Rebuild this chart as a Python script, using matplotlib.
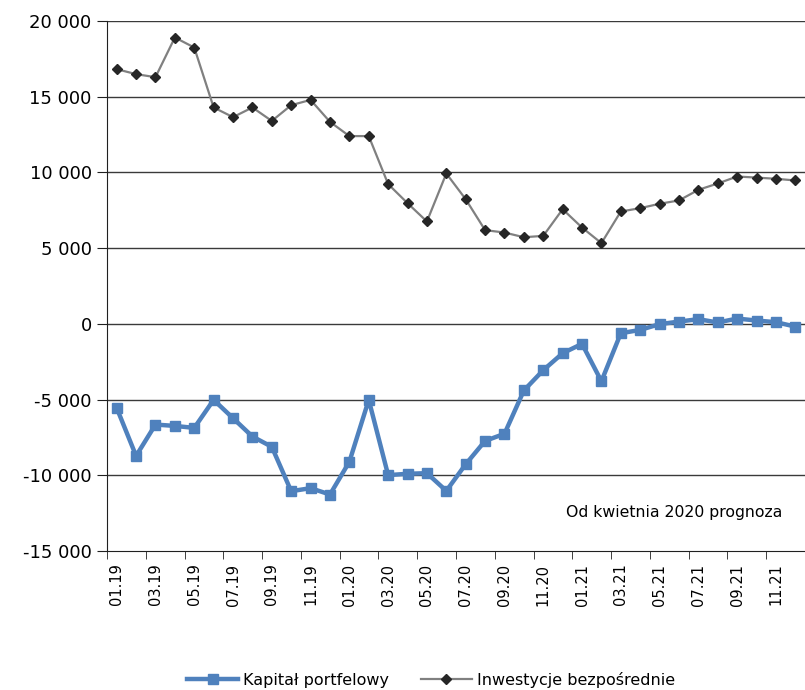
import numpy as np
import matplotlib.pyplot as plt

# monthly data, 01.2019 - 12.2021
months = ['01.19', '02.19', '03.19', '04.19', '05.19', '06.19', '07.19', '08.19', '09.19', '10.19', '11.19', '12.19',
          '01.20', '02.20', '03.20', '04.20', '05.20', '06.20', '07.20', '08.20', '09.20', '10.20', '11.20', '12.20',
          '01.21', '02.21', '03.21', '04.21', '05.21', '06.21', '07.21', '08.21', '09.21', '10.21', '11.21', '12.21']
portfel = [-5550, -8720, -6650, -6740, -6870, -5020, -6230, -7440, -8120, -11050, -10850, -11270,
           -9110, -5020, -9990, -9900, -9860, -11030, -9270, -7730, -7260, -4400, -3060, -1940,
           -1320, -3790, -620, -400, -20, 150, 310, 90, 350, 220, 110, -180]
bezposr = [16820, 16490, 16290, 18910, 18250, 14290, 13650, 14290, 13400, 14440, 14790, 13340,
           12400, 12400, 9230, 7970, 6760, 9930, 8230, 6190, 6030, 5720, 5810, 7570,
           6360, 5330, 7420, 7640, 7930, 8150, 8850, 9270, 9730, 9660, 9580, 9470]
yticks = [-15000, -10000, -5000, 0, 5000, 10000, 15000, 20000]
ytick_labels = ['-15 000', '-10 000', '-5 000', '0', '5 000', '10 000', '15 000', '20 000']

fig = plt.figure(figsize=(8.05, 6.9), dpi=100)
ax = fig.add_axes([107/805, 1 - 551/690, 1 - 107/805, 530/690])
x = np.arange(len(months))

for y in yticks[1:]:
    ax.axhline(y, color='#3a3a3a', lw=1.0, zorder=1)

ax.plot(x, portfel, color='#4F81BD', lw=3.2, marker='s', markersize=7.5,
        label='Kapitał portfelowy', zorder=3)
ax.plot(x, bezposr, color='#808080', lw=1.6, marker='D', markersize=5.5,
        markerfacecolor='#262626', markeredgecolor='#262626',
        label='Inwestycje bezpośrednie', zorder=3)

ax.set_ylim(-15000, 20000)
ax.set_xlim(-0.5, 35.3)
ax.set_yticks(yticks)
ax.set_yticklabels(ytick_labels, fontsize=13)
ax.set_xticks(x[::2])
ax.set_xticklabels(months[::2], rotation=90, fontsize=10.5)
ax.set_xticks(np.arange(-0.5, 36, 2), minor=True)
ax.tick_params(axis='x', which='major', length=0, pad=9)
ax.tick_params(axis='x', which='minor', length=6, direction='out', color='#202020')
ax.tick_params(axis='y', length=7, direction='out', color='#202020', pad=4)

for s in ['top', 'right']:
    ax.spines[s].set_visible(False)
ax.spines['left'].set_color('#202020')
ax.spines['bottom'].set_color('#202020')

ax.text(0.812, 0.072, 'Od kwietnia 2020 prognoza', transform=ax.transAxes,
        ha='center', va='center', fontsize=11.3)

fig.legend(loc='center', bbox_to_anchor=(431/805, 1 - 680/690), ncol=2, frameon=False,
           fontsize=11.5, handlelength=3.2, columnspacing=2.0, handletextpad=0.3)

fig.savefig('out.png', dpi=100)
